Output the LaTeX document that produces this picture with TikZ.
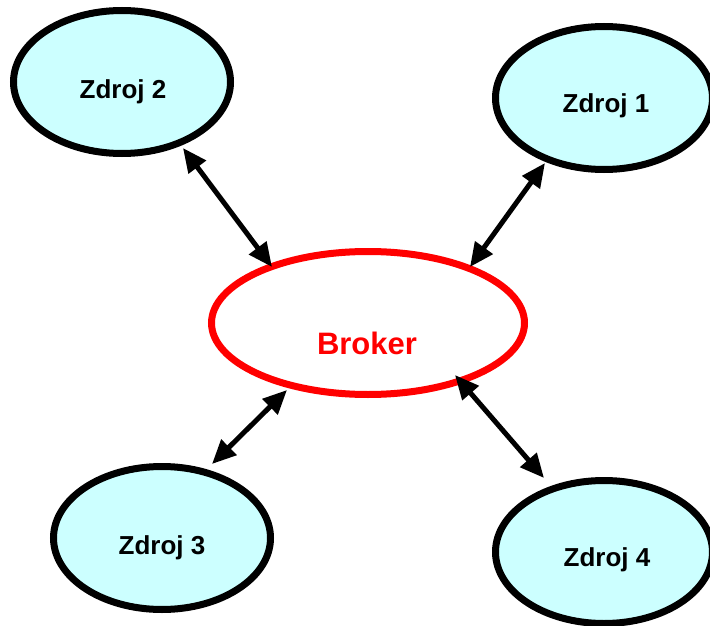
\documentclass[tikz,border=0pt]{standalone}
\usepackage{fontspec}
\setmainfont{Liberation Sans}
\usetikzlibrary{shapes.geometric,arrows.meta}
\definecolor{srcfill}{HTML}{CCFFFF}
\definecolor{brokred}{HTML}{FF0000}
\tikzset{
  srcbox/.style={ellipse, draw=black, line width=7pt, fill=srcfill, inner sep=0pt,
    minimum width=217pt, minimum height=143pt},
  brokbox/.style={ellipse, draw=brokred, line width=7pt, fill=white, inner sep=0pt,
    minimum width=313pt, minimum height=143pt},
  srclbl/.style={font=\fontsize{26}{30}\selectfont\bfseries, text=black, inner sep=0pt},
  broklbl/.style={font=\fontsize{31}{36}\selectfont\bfseries, text=brokred, inner sep=0pt},
  link/.style={line width=5pt, draw=black,
    {Triangle[length=24pt,width=21pt]}-{Triangle[length=24pt,width=21pt]}}
}
\begin{document}
\begin{tikzpicture}[x=1pt,y=-1pt]
\useasboundingbox[fill=white] (0,0) rectangle (710,626);
\node[srcbox] (z2) at (122,82) {};
\node[srcbox] (z1) at (604,98) {};
\node[srcbox] (z3) at (162,538) {};
\node[srcbox] (z4) at (604,552) {};
\node[brokbox] (br) at (368,323) {};
\node[srclbl] (t2) at (123,92) {Zdroj 2};
\node[srclbl] (t1) at (606,106) {Zdroj 1};
\node[srclbl] (t3) at (162,548) {Zdroj 3};
\node[srclbl] (t4) at (607,560) {Zdroj 4};
\node[broklbl] (tb) at (367,343) {Broker};
\draw[link] ([shift={(61,66)}]z2.center) -- ([shift={(-96,-56)}]br.center);
\draw[link] ([shift={(-59,65)}]z1.center) -- ([shift={(102,-56)}]br.center);
\draw[link] ([shift={(50,-74)}]z3.center) -- ([shift={(-81,67)}]br.center);
\draw[link] ([shift={(-60,-74)}]z4.center) -- ([shift={(87,52)}]br.center);
\end{tikzpicture}
\end{document}
